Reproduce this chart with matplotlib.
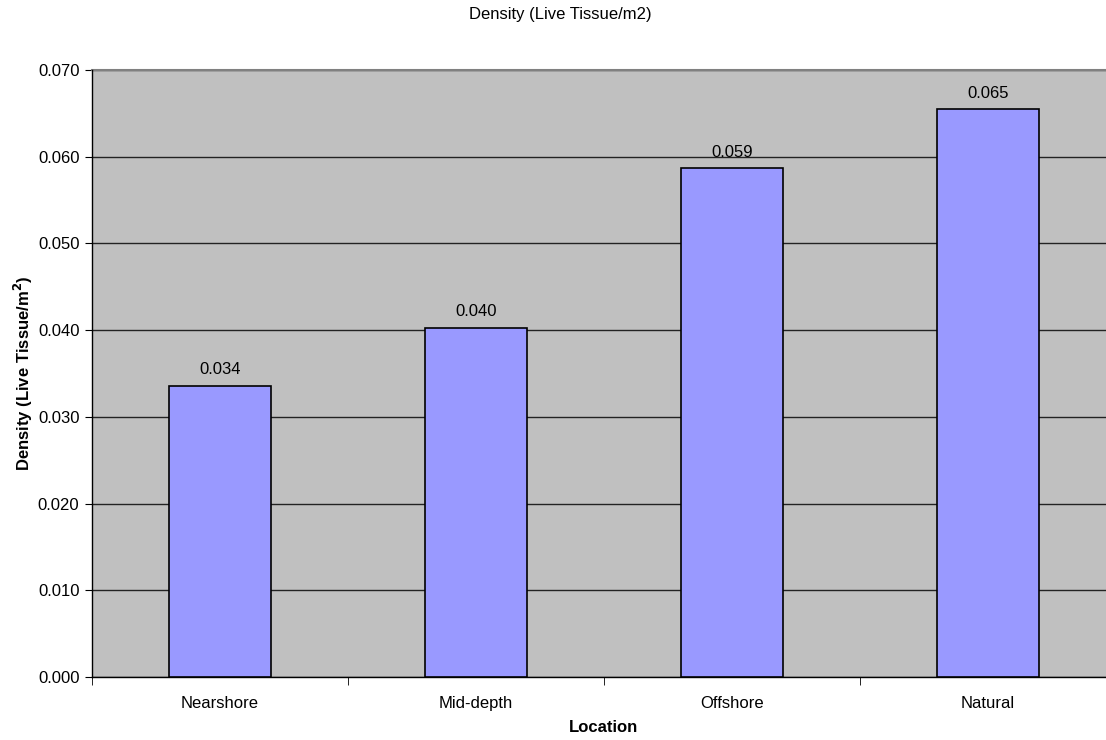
import matplotlib
matplotlib.use("Agg")
import matplotlib.pyplot as plt
import numpy as np

categories = ["Nearshore", "Mid-depth", "Offshore", "Natural"]
values = [0.0336, 0.0403, 0.0587, 0.0655]
labels = ["0.034", "0.040", "0.059", "0.065"]
yticks = [0.0, 0.01, 0.02, 0.03, 0.04, 0.05, 0.06, 0.07]

plt.rcParams['font.family'] = ['Liberation Sans', 'DejaVu Sans']

W, H = 1106, 740
fig = plt.figure(figsize=(W / 100, H / 100), dpi=100)
left, right, top, bottom = 92, 1116, 70, 677
ax = fig.add_axes([left / W, 1 - bottom / H, (right - left) / W, (bottom - top) / H])
ax.set_facecolor('#C0C0C0')

x = np.arange(len(categories))
ax.bar(x, values, width=0.4, color='#9999FF', edgecolor='black', linewidth=1.2, zorder=3)
for xi, v, lab in zip(x, values, labels):
    ax.annotate(lab, (xi, v), xytext=(0, 6), textcoords='offset points',
                ha='center', va='bottom', fontsize=12, color='black', zorder=4)

ax.set_xlim(-0.5, len(categories) - 0.5)
ax.set_ylim(0, 0.07)
ax.set_yticks(yticks)
ax.set_yticklabels([f"{t:.3f}" for t in yticks], fontsize=12)
ax.yaxis.grid(True, color='#222222', linewidth=1.0, zorder=1)
ax.set_axisbelow(True)

ax.set_xticks(x)
ax.set_xticklabels(categories, fontsize=12)
ax.tick_params(axis='x', length=0, pad=14)
ax.set_xticks(np.arange(-0.5, len(categories) + 0.5, 1), minor=True)
ax.tick_params(axis='x', which='minor', length=6, direction='out', color='black')
ax.tick_params(axis='y', length=5, direction='out', color='black', pad=4)

for s in ['top', 'right']:
    ax.spines[s].set_visible(False)
ax.spines['left'].set_color('black')
ax.spines['bottom'].set_color('black')
ax.spines['left'].set_linewidth(1.0)
ax.spines['bottom'].set_linewidth(1.0)
# top border line (gray)
ax.axhline(0.07, color='#808080', linewidth=1.5, zorder=2, clip_on=False)

ax.set_xlabel("Location", fontsize=12, fontweight='bold', labelpad=6)
ax.set_ylabel("Density (Live Tissue/m$^\\mathbf{2}$)", fontsize=12, fontweight='bold', labelpad=2)

fig.text(560 / W, 1 - 15 / H, "Density (Live Tissue/m2)", ha='center', va='center', fontsize=12)

fig.savefig("out.png", dpi=100, facecolor='white')
